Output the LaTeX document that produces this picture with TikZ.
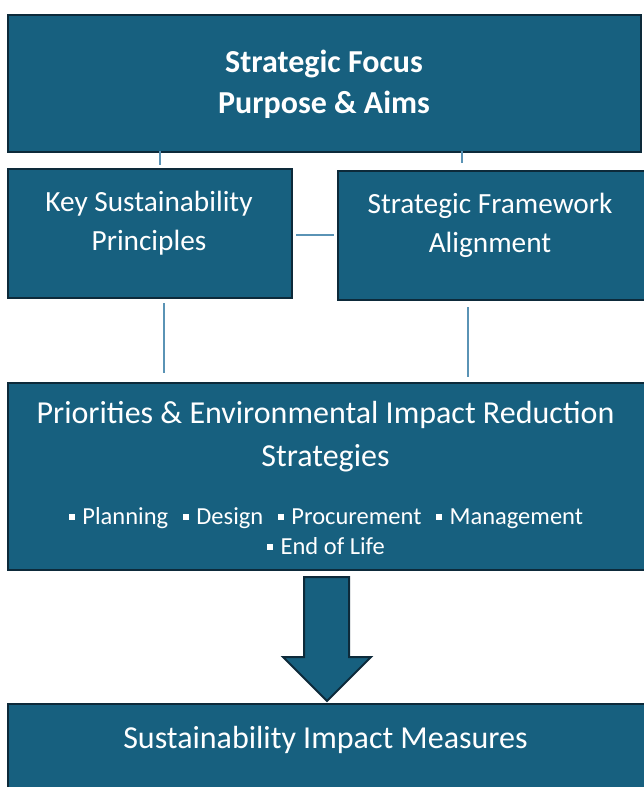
\documentclass[tikz,border=0pt]{standalone}
\usepackage{fontspec}
\setmainfont{Carlito}
\definecolor{boxfill}{HTML}{17607F}
\definecolor{boxline}{HTML}{0D2A3A}
\definecolor{conn}{HTML}{5A93B5}
\newcommand{\sqb}{\raisebox{0.17em}{\rule{0.25em}{0.25em}}\hspace{0.3em}}
\tikzset{
  box/.style={draw=boxline, line width=2pt, fill=boxfill, anchor=north west, inner sep=0pt},
  txt/.style={text=white, align=center, inner sep=0pt},
  link/.style={draw=conn, line width=1.6pt},
}
\begin{document}
\begin{tikzpicture}[x=1pt,y=-1pt]
\useasboundingbox (0,0) rectangle (643,787);
% boxes
\node[box, minimum width=633, minimum height=137] (top) at (7,14) {};
\node[box, minimum width=284, minimum height=129] (key) at (7,168) {};
\node[box, minimum width=320, minimum height=129] (frame) at (337,170) {};
\node[box, minimum width=650, minimum height=187] (prio) at (7,382) {};
\node[box, minimum width=650, minimum height=110] (meas) at (7,703) {};
% texts
\node[txt, font=\fontsize{32}{41}\selectfont\bfseries] (ttop) at (324,84.5) {Strategic Focus\\Purpose \& Aims};
\node[txt, font=\fontsize{29.3}{39}\selectfont] (tkey) at (149,223.5) {Key Sustainability\\Principles};
\node[txt, font=\fontsize{29.3}{39}\selectfont] (tframe) at (490,225.5) {Strategic Framework\\Alignment};
\node[txt, font=\fontsize{32}{43}\selectfont] (tprio) at (325.5,437) {Priorities \& Environmental Impact Reduction\\Strategies};
\node[txt, font=\fontsize{24.5}{30}\selectfont] (tlist) at (326,531) {\sqb Planning\hspace{0.6em}\sqb Design\hspace{0.6em}\sqb Procurement\hspace{0.6em}\sqb Management\\\sqb End of Life};
\node[txt, font=\fontsize{32}{43}\selectfont] (tmeas) at (325.5,739.5) {Sustainability Impact Measures};
% connectors
\coordinate (c1a) at (160,151); \coordinate (c1b) at (160,165);
\coordinate (c2a) at (462,151); \coordinate (c2b) at (462,163);
\coordinate (c3a) at (296,235); \coordinate (c3b) at (334,235);
\coordinate (c4a) at (164,303); \coordinate (c4b) at (164,373);
\coordinate (c5a) at (468,307); \coordinate (c5b) at (468,377);
\draw[link] (c1a) -- (c1b);
\draw[link] (c2a) -- (c2b);
\draw[link] (c3a) -- (c3b);
\draw[link] (c4a) -- (c4b);
\draw[link] (c5a) -- (c5b);
% arrow
\draw[draw=boxline, line width=2pt, fill=boxfill, line join=miter]
  (304,577) -- (349,577) -- (349,657) -- (371,657) -- (327,701) -- (283,657) -- (304,657) -- cycle;
\end{tikzpicture}
\end{document}
